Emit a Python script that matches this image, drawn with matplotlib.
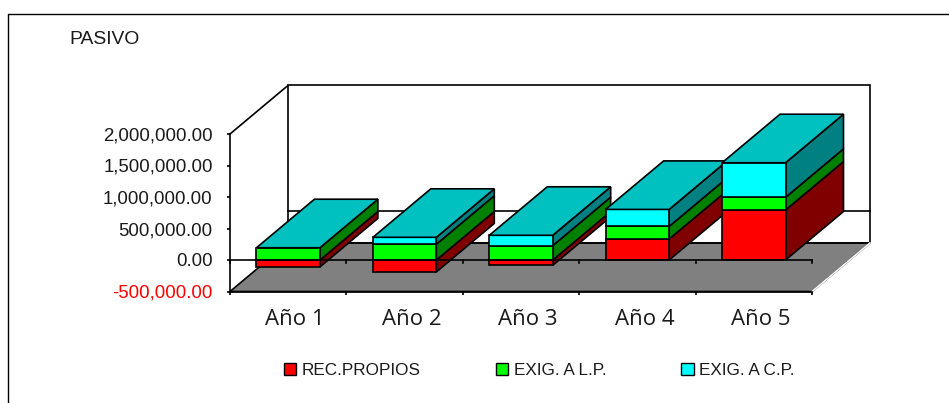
import matplotlib
matplotlib.use("Agg")
import matplotlib.pyplot as plt
from matplotlib.lines import Line2D
from matplotlib.patches import Polygon, Patch
from matplotlib.transforms import ScaledTranslation

years = ["Año 1", "Año 2", "Año 3", "Año 4", "Año 5"]
rec_propios = [-110000, -190000, -85000, 333000, 794000]
exig_lp = [195000, 250000, 228000, 200000, 200000]
exig_cp = [0, 110000, 164000, 270000, 550000]
y_ticks = [-500000, 0, 500000, 1000000, 1500000, 2000000]

W, H = 949, 403
BAR_W = 0.545
# depth of the fake 3d box, in data units
DX = 0.498
DY = 770000

fig = plt.figure(figsize=(W / 100, H / 100), dpi=100)
# outer frame, only top and left show in the picture
fig.add_artist(Line2D([8 / W, 8 / W, 1], [0, 1 - 13.5 / H, 1 - 13.5 / H], color="black", lw=1))
ax = fig.add_axes([230 / W, 1 - 291.5 / H, 582 / W, 157.5 / H])
ax.patch.set_visible(False)
ax.set_xlim(-0.5, 4.5)
ax.set_ylim(-500000, 2000000)


def poly(points, fc, z=2, lw=1.2):
    ax.add_patch(Polygon(points, closed=True, fc=fc, ec="black", lw=lw, zorder=z,
                         clip_on=False, joinstyle="miter"))


# floor and back wall
poly([(-0.5, -500000), (4.5, -500000), (4.5 + DX, -500000 + DY), (-0.5 + DX, -500000 + DY)], "#808080", 1)
poly([(-0.5 + DX, -500000 + DY), (4.5 + DX, -500000 + DY), (4.5 + DX, 2000000 + DY), (-0.5 + DX, 2000000 + DY)],
     "none", 1)
ax.plot([-0.5, -0.5 + DX], [2000000, 2000000 + DY], color="black", lw=1.2, clip_on=False, zorder=1)
ax.plot([-0.5 + DX, 4.5 + DX], [DY, DY], color="black", lw=1.2, clip_on=False, zorder=1)
# white highlight on the right floor edge
ax.plot([4.5, 4.5 + DX], [-500000, -500000 + DY], color="white", lw=1.2, clip_on=False, zorder=1)

front_cols = ["#FF0000", "#00FF00", "#00FFFF"]
side_cols = ["#800000", "#008000", "#008080"]
TOP_COL = "#00C0C0"

for i in range(len(years)):
    x0 = i - BAR_W / 2
    x1 = i + BAR_W / 2
    # negative part goes first, then the stack upward from zero
    segs = [(min(rec_propios[i], 0), max(rec_propios[i], 0), 0)]
    y = max(rec_propios[i], 0)
    for val, c in ((exig_lp[i], 1), (exig_cp[i], 2)):
        if val > 0:
            segs.append((y, y + val, c))
            y += val
    for low, high, c in segs:
        poly([(x1, low), (x1 + DX, low + DY), (x1 + DX, high + DY), (x1, high)], side_cols[c], 3)
        poly([(x0, low), (x1, low), (x1, high), (x0, high)], front_cols[c], 4)
    poly([(x0, y), (x1, y), (x1 + DX, y + DY), (x0 + DX, y + DY)], TOP_COL, 4)

# zero axis with its own ticks
ax.plot([-0.5, 4.5], [0, 0], color="black", lw=1.2, clip_on=False, zorder=5)
for b in [-0.5, 0.5, 1.5, 2.5, 3.5, 4.5]:
    ax.plot([b, b], [0, -45000], color="black", lw=1.2, zorder=5, clip_on=False)

for side in ("top", "right"):
    ax.spines[side].set_visible(False)
for side in ("left", "bottom"):
    ax.spines[side].set_linewidth(1.2)
    ax.spines[side].set_zorder(6)

ax.set_yticks(y_ticks)
ax.set_yticklabels([f"{v:,.2f}" for v in y_ticks], fontsize=13.4, family="Liberation Sans", color="#1a1a1a")
ax.get_yticklabels()[0].set_color("#FF0000")
ax.tick_params(axis="y", direction="out", length=2.5, width=1.2, pad=10)
ax.set_xticks(range(len(years)))
ax.set_xticklabels(years, fontsize=16, family="Open Sans", color="#1a1a1a")
ax.set_xticks([-0.5, 0.5, 1.5, 2.5, 3.5, 4.5], minor=True)
ax.tick_params(axis="x", which="major", length=0, pad=12.5)
ax.tick_params(axis="x", which="minor", length=2.5, width=1.2, direction="out")
# labels sit a little right of the bar centres in the original
shift = ScaledTranslation(7 / 100, 0, fig.dpi_scale_trans)
for lab in ax.get_xticklabels():
    lab.set_transform(lab.get_transform() + shift)

fig.text(69 / W, 1 - 39 / H, "PASIVO", fontsize=13.9, family="Liberation Sans", color="#1a1a1a", va="center")

handles = [Patch(fc=c, ec="black", lw=1) for c in front_cols]
fig.legend(handles, ["REC.PROPIOS", "EXIG. A L.P.", "EXIG. A C.P."], ncol=3, frameon=False,
           loc="center left", bbox_to_anchor=(284 / W, 1 - 370.5 / H), borderaxespad=0, borderpad=0,
           prop={"family": "Liberation Sans", "size": 12.3},
           handlelength=0.72, handleheight=0.72, handletextpad=0.32, columnspacing=4.4, labelcolor="#1a1a1a")

fig.savefig("out.png", dpi=100)
